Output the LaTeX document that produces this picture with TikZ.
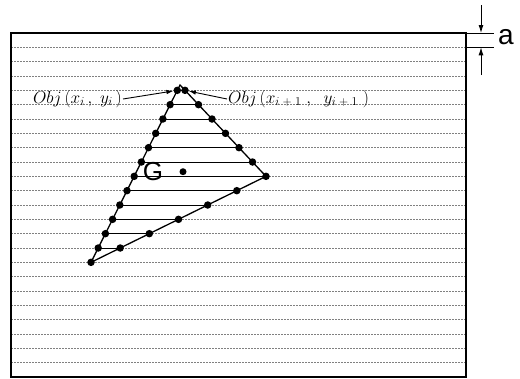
\documentclass[tikz,border=0pt]{standalone}
\usepackage{fontspec}
\newfontfamily\arial{Liberation Sans}
\usetikzlibrary{arrows.meta}
\begin{document}
\begin{tikzpicture}[x=1pt,y=-1pt,
  dot/.style={circle,fill=black,inner sep=0pt,minimum size=7.5pt},
  scan/.style={black!50,line width=0.5pt,dash pattern=on 2pt off 1pt},
  inscan/.style={black,line width=0.7pt},
  edge/.style={black,line width=1.3pt},
  lbl/.style={font=\fontsize{17.5}{19}\selectfont,inner sep=1pt},
  ptr/.style={-{Latex[length=7pt,width=4.5pt]},line width=0.9pt},
  dim/.style={-{Latex[length=8pt,width=5pt]},line width=0.9pt}]
\useasboundingbox (0,0) rectangle (520,378);
% scan lines
\foreach \k in {1,...,23}{
  \draw[scan] (11,{33+14.333*\k}) -- (466,{33+14.333*\k});
}
% frame
\draw[line width=1.3pt] (11,33) rectangle (466,377);
% triangle vertices
\coordinate (A) at (180,85);
\node[dot] (R) at (266,176.33) {};
\node[dot] (B) at (91,262.33) {};
% left edge dots
\node[dot] (L4) at (177.3,90.33) {};
\node[dot] (L5) at (170.1,104.67) {};
\node[dot] (L6) at (162.9,119) {};
\node[dot] (L7) at (155.7,133.33) {};
\node[dot] (L8) at (148.5,147.67) {};
\node[dot] (L9) at (141.4,162) {};
\node[dot] (L10) at (134.2,176.33) {};
\node[dot] (L11) at (127.0,190.67) {};
\node[dot] (L12) at (119.8,205) {};
\node[dot] (L13) at (112.6,219.33) {};
\node[dot] (L14) at (105.4,233.67) {};
\node[dot] (L15) at (98.2,248) {};
% right edge dots
\node[dot] (T4) at (185.0,90.33) {};
\node[dot] (T5) at (198.5,104.67) {};
\node[dot] (T6) at (212.0,119) {};
\node[dot] (T7) at (225.5,133.33) {};
\node[dot] (T8) at (239.0,147.67) {};
\node[dot] (T9) at (252.5,162) {};
% bottom edge dots
\node[dot] (T11) at (236.8,190.67) {};
\node[dot] (T12) at (207.7,205) {};
\node[dot] (T13) at (178.5,219.33) {};
\node[dot] (T14) at (149.3,233.67) {};
\node[dot] (T15) at (120.2,248) {};
% inner scan segments
\foreach \k in {4,...,9,11,12,13,14,15}{
  \draw[inscan] (L\k.center) -- (T\k.center);
}
\draw[inscan] (L10.center) -- (R.center);
% triangle edges
\draw[edge] (A) -- (R.center) -- (B.center) -- cycle;
% centroid
\node[font=\arial\fontsize{26}{26}\selectfont,inner sep=0pt] (G) at (153,172) {G};
\node[dot,minimum size=7pt] (Gd) at (183,171.7) {};
% labels
\node[lbl,anchor=east] (o1) at (123,99) {$Obj\,(x_i\,,\;y_i\,)$};
\node[lbl,anchor=west] (o2) at (227,99) {$Obj\,(x_{i\;+\;1}\;,\;\;y_{i\;+\;1}\;)$};
\draw[ptr] (o1.east) -- (L4);
\draw[ptr] (o2.west) -- (T4);
% dimension a
\coordinate (d1) at (466,33);
\coordinate (d2) at (494,33);
\coordinate (d3) at (466,47.33);
\coordinate (d4) at (494,47.33);
\draw[line width=0.9pt] (d1) -- (d2);
\draw[line width=0.9pt] (d3) -- (d4);
\coordinate (a0) at (481,5);
\coordinate (a1) at (481,33);
\coordinate (b0) at (481,75);
\coordinate (b1) at (481,47.33);
\draw[dim] (a0) -- (a1);
\draw[dim] (b0) -- (b1);
\node[font=\arial\fontsize{28}{28}\selectfont,inner sep=0pt] (alab) at (506,37) {a};
\end{tikzpicture}
\end{document}
